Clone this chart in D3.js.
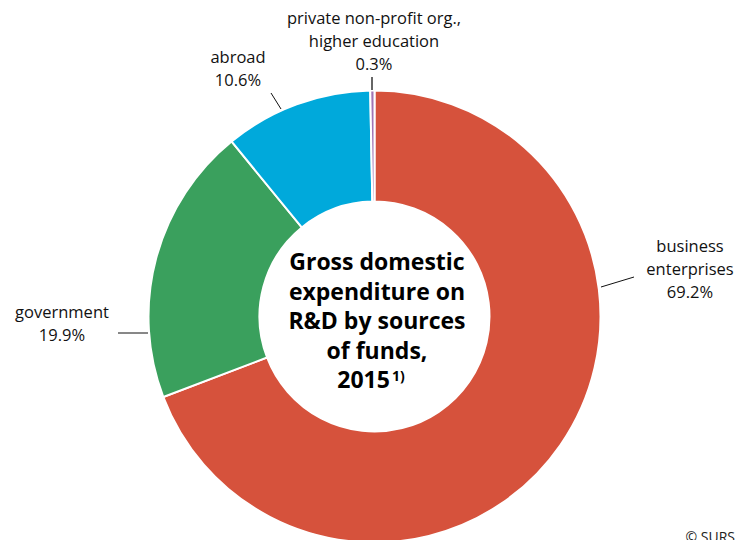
<!DOCTYPE html>
<html><head><meta charset="utf-8">
<script src="https://cdn.jsdelivr.net/npm/d3@7"></script>
<style>body{margin:0;background:#fff;}svg{display:block;font-family:"Open Sans",sans-serif;}</style>
</head><body><svg id="c" width="741" height="540"></svg>
<script>
const categories = ["business enterprises", "government", "abroad", "private non-profit org., higher education"];
const values = [69.2, 19.9, 10.6, 0.3];
const colors = ["#d6523c", "#3aa05d", "#00a9db", "#a174b4"];
const labelLines = [["business", "enterprises", "69.2%"], ["government", "19.9%"], ["abroad", "10.6%"], ["private non-profit org.,", "higher education", "0.3%"]];
const titleLines = ["Gross domestic", "expenditure on", "R&D by sources", "of funds,", "2015"];
const titleNote = "1)";

const svg = d3.select("#c");
const cx = 374.5, cy = 316.5, R = 226, r = 115;
const g = svg.append("g").attr("transform", `translate(${cx},${cy})`);
const pie = d3.pie().sort(null).value(d => d)(values);
const arc = d3.arc().innerRadius(r).outerRadius(R);
g.selectAll("path").data(pie).join("path")
  .attr("d", arc).attr("fill", (d, i) => colors[i])
  .attr("stroke", "#fff").attr("stroke-width", 2);

const labelPos = [
  {x: 690, y: 252, lx1: 601, ly1: 287, lx2: 634, ly2: 277},
  {x: 62, y: 318, lx1: 118, ly1: 333, lx2: 148, ly2: 333},
  {x: 238, y: 63, lx1: 271, ly1: 93, lx2: 281, ly2: 109},
  {x: 374, y: 24, lx1: 372, ly1: 77, lx2: 372, ly2: 90}
];
labelLines.forEach((lines, i) => {
  const p = labelPos[i];
  const t = svg.append("text").attr("text-anchor", "middle").attr("font-size", 16.5).attr("fill", "#111");
  lines.forEach((ln, j) => t.append("tspan").attr("x", p.x).attr("y", p.y + j * 23).text(ln));
  svg.append("line").attr("x1", p.lx1).attr("y1", p.ly1).attr("x2", p.lx2).attr("y2", p.ly2)
    .attr("stroke", i === 3 ? "#666" : "#111").attr("stroke-width", i === 3 ? 2 : 1);
});

const tt = svg.append("text").attr("text-anchor", "middle").attr("font-size", 23).attr("font-weight", "bold").attr("fill", "#000");
titleLines.forEach((ln, j) => {
  tt.append("tspan").attr("x", j === 4 ? 371 : 377).attr("y", 270 + j * 29.5).text(ln);
});
tt.append("tspan").attr("font-size", 14).attr("dx", 2).attr("dy", -7).text(titleNote);

svg.append("text").attr("x", 735).attr("y", 542).attr("text-anchor", "end").attr("font-size", 14).attr("fill", "#222").text("© SURS");
</script></body></html>
